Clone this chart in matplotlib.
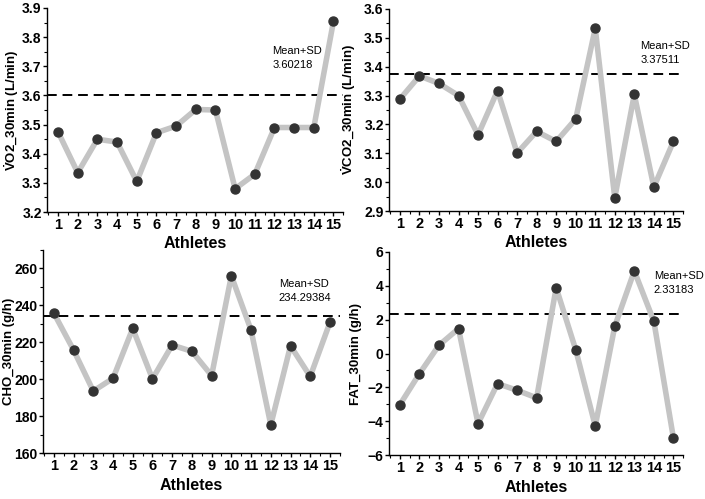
import matplotlib
matplotlib.use('Agg')
import matplotlib.pyplot as plt
from matplotlib.ticker import MultipleLocator

plt.rcParams['font.family'] = ['Liberation Sans', 'DejaVu Sans']
plt.rcParams['mathtext.fontset'] = 'custom'
plt.rcParams['mathtext.bf'] = 'Liberation Sans:bold'
plt.rcParams['mathtext.rm'] = 'Liberation Sans:bold'

athletes = list(range(1, 16))

vo2 = [3.475, 3.335, 3.45, 3.44, 3.305, 3.472, 3.495, 3.552, 3.55,
       3.28, 3.33, 3.49, 3.49, 3.49, 3.855]
vco2 = [3.288, 3.368, 3.342, 3.300, 3.164, 3.317, 3.101, 3.176, 3.141,
        3.219, 3.533, 2.946, 3.304, 2.983, 3.141]
cho = [235.8, 215.8, 193.6, 200.5, 227.5, 200.2, 218.5, 215.1, 202.0,
       256.0, 226.6, 175.3, 218.1, 201.5, 230.8]
fat = [-3.02, -1.19, 0.49, 1.47, -4.14, -1.78, -2.17, -2.62, 3.89,
       0.23, -4.28, 1.61, 4.88, 1.91, -4.98]

mean_sd = [3.60218, 3.37511, 234.29384, 2.33183]
mean_sd_text = ['3.60218', '3.37511', '234.29384', '2.33183']
ylabels = [r'$\mathrm{\dot{V}}$O2_30min (L/min)', r'$\mathrm{\dot{V}}$CO2_30min (L/min)',
           'CHO_30min (g/h)', 'FAT_30min (g/h)']

panels = [
    # data, ylim, major, minor, axes rect, text pos, ylabel x
    (vo2, (3.2, 3.9), 0.1, 0.05, [0.067, 0.575, 0.420, 0.409], (11.9, 3.77), -0.09),
    (vco2, (2.9, 3.6), 0.1, 0.05, [0.552, 0.577, 0.417, 0.405], (13.3, 3.49), -0.105),
    (cho, (160, 270), 20, 10, [0.061, 0.092, 0.421, 0.407], (12.4, 254.5), -0.095),
    (fat, (-6, 6), 2, 1, [0.552, 0.088, 0.417, 0.407], (14.0, 4.85), -0.092),
]

fig = plt.figure(figsize=(7.05, 4.99), dpi=100)

for i, (vals, ylim, major, minor, rect, tpos, ylx) in enumerate(panels):
    ax = fig.add_axes(rect)
    ax.patch.set_alpha(0)
    ax.plot(athletes, vals, color='#c4c4c4', lw=4, zorder=2)
    ax.plot(athletes, vals, 'o', color='#333333', ms=6.5, zorder=3)
    ax.axhline(mean_sd[i], color='black', lw=1.4, ls=(0, (5, 3)), zorder=1)
    ax.text(tpos[0], tpos[1], 'Mean+SD\n' + mean_sd_text[i], fontsize=8,
            va='top', ha='left', linespacing=1.5)

    ax.set_xlim(0.45, 15.5)
    ax.set_ylim(*ylim)
    ax.set_xticks(athletes)
    ax.xaxis.set_minor_locator(MultipleLocator(0.5))
    ax.yaxis.set_major_locator(MultipleLocator(major))
    ax.yaxis.set_minor_locator(MultipleLocator(minor))
    if major < 1:
        ax.yaxis.set_major_formatter(plt.FormatStrFormatter('%.1f'))

    for s in ['top', 'right']:
        ax.spines[s].set_visible(False)
    for s in ['left', 'bottom']:
        ax.spines[s].set_linewidth(1.0)
    ax.tick_params(which='major', direction='out', length=3, width=1,
                   labelsize=10.5, pad=1.5)
    ax.tick_params(axis='y', which='major', labelsize=10, pad=1)
    ax.tick_params(which='minor', direction='out', length=2, width=0.8)
    for lab in ax.get_xticklabels() + ax.get_yticklabels():
        lab.set_fontweight('bold')

    ax.set_xlabel('Athletes', fontsize=11.5, fontweight='bold', labelpad=3)
    ax.set_ylabel(ylabels[i], fontsize=9.5, fontweight='bold')
    ax.yaxis.set_label_coords(ylx, 0.5)

fig.savefig('out.png', dpi=100)
